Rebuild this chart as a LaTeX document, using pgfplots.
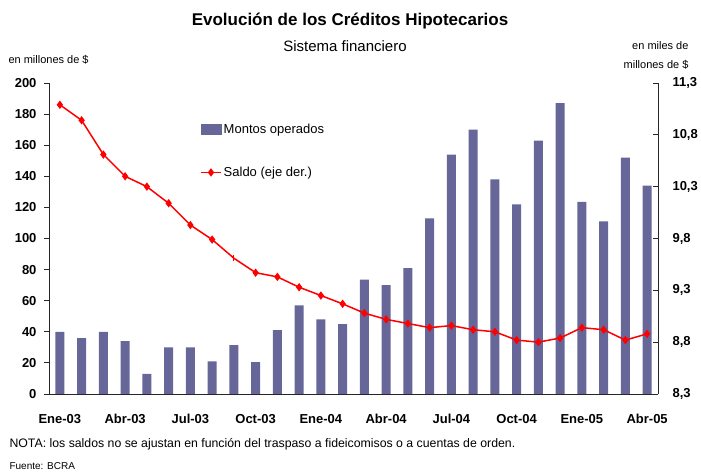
\documentclass[border=0pt]{standalone}
\usepackage{fontspec}
\setmainfont{Liberation Sans}
\usepackage{pgfplots}
\pgfplotsset{compat=1.18}
\definecolor{barc}{RGB}{102,102,153}
\begin{document}
\begin{tikzpicture}[x=1pt,y=1pt]
\useasboundingbox (0,0) rectangle (701,471);
\begin{axis}[
  at={(49pt,77pt)}, anchor=south west, scale only axis,
  width=609pt, height=311pt,
  xmin=-0.5, xmax=27.5, ymin=0, ymax=200,
  axis x line*=bottom, axis y line*=left,
  axis line style={line width=0.8pt, -, black!85},
  ytick={0,20,...,200},
  xtick={0,3,...,27},
  xticklabels={Ene-03,Abr-03,Jul-03,Oct-03,Ene-04,Abr-04,Jul-04,Oct-04,Ene-05,Abr-05},
  x tick style={draw=none},
  y tick style={line width=0.8pt, black!85},
  tick align=outside, major tick length=5pt,
  ticklabel style={font=\fontsize{13}{13}\selectfont\bfseries},
  /pgf/number format/assume math mode=true,
  xticklabel style={yshift=-12pt},
  yticklabel style={xshift=-4pt},
  ybar, bar width=9pt,
]
\addplot[fill=barc, draw=none] coordinates {
(0,40) (1,36) (2,40) (3,34) (4,13) (5,30) (6,30) (7,21) (8,31.5) (9,20.5)
(10,41) (11,57) (12,48) (13,45) (14,73.5) (15,70) (16,81) (17,113) (18,154) (19,170)
(20,138) (21,122) (22,163) (23,187) (24,123.5) (25,111) (26,152) (27,134)};
\end{axis}
\begin{axis}[
  at={(49pt,77pt)}, anchor=south west, scale only axis,
  width=609pt, height=311pt,
  xmin=-0.5, xmax=27.5, ymin=8.3, ymax=11.3,
  axis x line=none, axis y line*=right,
  axis line style={line width=0.8pt, -, black!85},
  ytick={8.3,8.8,9.3,9.8,10.3,10.8,11.3},
  y tick style={line width=0.8pt, black!85},
  tick align=inside, major tick length=5pt,
  ticklabel style={font=\fontsize{13}{13}\selectfont\bfseries},
  /pgf/number format/assume math mode=true,
  yticklabel style={xshift=11pt, /pgf/number format/.cd, fixed, fixed zerofill, precision=1, use comma},
  clip=false,
  legend style={at={(axis description cs:0.248,0.875)}, anchor=north west, draw=none, fill=none,
    font=\fontsize{13}{13}\selectfont, row sep=28pt, inner sep=0pt},
  legend cell align=left,
]
\addlegendimage{legend image code/.code={\fill[barc] (0pt,-5pt) rectangle (20pt,5pt);}}
\addlegendentry{Montos operados}
\addlegendimage{red, line width=1.5pt, mark=diamond*, mark size=3pt,
  legend image code/.code={\draw[mark repeat=2,mark phase=2] plot coordinates {(0pt,0pt) (10pt,0pt) (20pt,0pt)};}}
\addlegendentry{Saldo (eje der.)}
\addplot[red, line width=1.5pt, mark=diamond*, mark size=3pt, mark options={solid},
  mark indices={1,2,3,4,5,6,7,8,10,11,12,13,14,15,16,17,18,19,20,21,22,23,24,25,26,27,28}, forget plot] coordinates {
(0,11.09) (1,10.94) (2,10.61) (3,10.40) (4,10.30) (5,10.14) (6,9.93) (7,9.79) (8,9.61) (9,9.47)
(10,9.43) (11,9.33) (12,9.25) (13,9.17) (14,9.08) (15,9.02) (16,8.98) (17,8.94) (18,8.96) (19,8.92)
(20,8.90) (21,8.82) (22,8.80) (23,8.84) (24,8.94) (25,8.92) (26,8.82) (27,8.88)};
\addplot[red, line width=0.8pt, mark=|, mark size=3pt, only marks, forget plot] coordinates {(8,9.61)};
\end{axis}
\node[font=\bfseries\fontsize{17}{17}\selectfont] at (350,450) {Evolución de los Créditos Hipotecarios};
\node[font=\fontsize{15}{15}\selectfont] at (345,425) {Sistema financiero};
\node[anchor=west, font=\fontsize{11}{11}\selectfont] at (5,411) {en millones de \$};
\node[anchor=east, font=\fontsize{11}{11}\selectfont] at (692,425) {en miles de};
\node[anchor=east, font=\fontsize{11}{11}\selectfont] at (692,406) {millones de \$};
\node[anchor=west, font=\fontsize{12.3}{12.3}\selectfont] at (6,27) {NOTA: los saldos no se ajustan en función del traspaso a fideicomisos o a cuentas de orden.};
\node[anchor=west, font=\fontsize{10}{10}\selectfont] at (6,5) {Fuente: BCRA};
\end{tikzpicture}
\end{document}
